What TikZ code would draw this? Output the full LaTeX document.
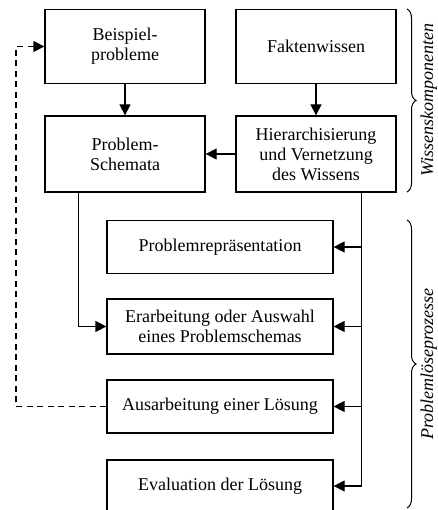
\documentclass[tikz,border=0pt]{standalone}
\usepackage{fontspec}
\setmainfont{Liberation Serif}
\usetikzlibrary{positioning,arrows.meta,decorations.pathreplacing}

\begin{document}
\begin{tikzpicture}[x=1pt,y=-1pt,>={Triangle[length=11pt,width=11pt]},
line width=1.3pt,
box/.style={draw,align=center,inner sep=0pt,font=\fontsize{18}{20}\selectfont},
kbox/.style={box,minimum width=160pt,minimum height=74pt},
pbox/.style={box,minimum width=226pt,minimum height=53pt},
brc/.style={decorate,decoration={brace,amplitude=9pt},line width=1pt},
side/.style={rotate=90,anchor=north,inner sep=0pt,font=\fontsize{18}{20}\selectfont\itshape}]
\useasboundingbox (0,0) rectangle (437,510);
% Wissenskomponenten
\node[kbox] (bsp) at (125,46.5) {Beispiel-\\probleme};
\node[kbox] (fak) at (316,46.5) {Faktenwissen};
\node[kbox,minimum height=76pt] (sch) at (125,154) {Problem-\\Schemata};
\node[kbox,minimum height=76pt] (hier) at (316,154) {Hierarchisierung\\und Vernetzung\\des Wissens};
% Problemloeseprozesse
\node[pbox] (rep) at (220,247) {Problemrepr\"asentation};
\node[pbox,minimum height=55pt] (erb) at (220,326.5) {Erarbeitung oder Auswahl\\eines Problemschemas};
\node[pbox] (aus) at (220,406.5) {Ausarbeitung einer L\"osung};
\node[pbox,minimum height=52pt] (eva) at (220,486) {Evaluation der L\"osung};
\coordinate (dl) at (16,0);
\draw[->] (bsp) -- (sch);
\draw[->] (fak) -- (hier);
\draw[->] (hier) -- (sch);
\draw[->] ([xshift=34pt]sch.south west) |- (erb.west);
\draw ([xshift=-35pt]hier.south east) coordinate (v);
\draw[->] (v) |- (eva.east);
\draw[->] (v |- rep.east) -- (rep.east);
\draw[->] (v |- erb.east) -- (erb.east);
\draw[->] (v |- aus.east) -- (aus.east);
\draw[->,dash pattern=on 6pt off 4.5pt] (aus.west) -- (aus.west -| dl) |- (bsp.west);
% Klammern
\draw[brc] (407,9) -- (407,192);
\draw[brc] (407,220) -- (407,508);
\node[side] (wk) at (420,100) {Wissenskomponenten};
\node[side] (pp) at (420,364) {Probleml\"oseprozesse};
\end{tikzpicture}
\end{document}
